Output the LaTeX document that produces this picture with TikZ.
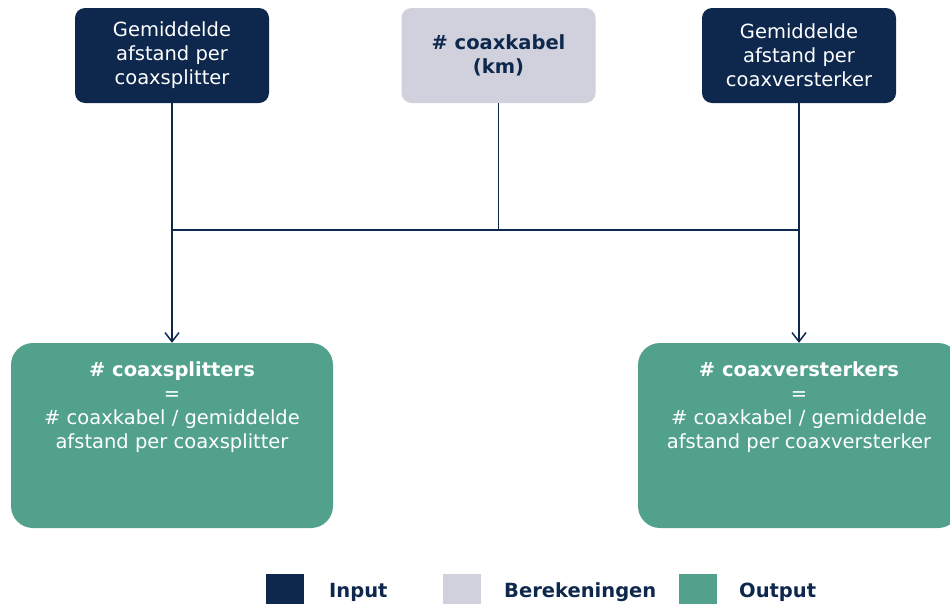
\documentclass[tikz,border=0pt]{standalone}
\usepackage{fontspec}
\setmainfont{DejaVu Sans}
\usetikzlibrary{arrows.meta}
\definecolor{coaxnavy}{RGB}{14,40,77}
\definecolor{coaxgray}{RGB}{208,209,220}
\definecolor{coaxgreen}{RGB}{82,161,140}

\tikzset{
  inbox/.style={fill=coaxnavy, text=white, rounded corners=10pt, minimum width=194pt, minimum height=95pt, align=center, font=\fontsize{19.5}{24}\selectfont},
  calcbox/.style={inbox, fill=coaxgray, text=coaxnavy, font=\fontsize{19.5}{24}\selectfont\bfseries},
  outbox/.style={fill=coaxgreen, rounded corners=22pt, minimum width=322pt, minimum height=185pt},
  outtext/.style={text=white, align=center, anchor=north, font=\fontsize{19.5}{24}\selectfont},
  link/.style={draw=coaxnavy, line width=1.5pt},
  legbox/.style={fill=#1, minimum size=38pt, inner sep=0pt, anchor=north west},
  legtext/.style={text=coaxnavy, anchor=base west, inner xsep=0pt, font=\fontsize{19.5}{22}\selectfont\bfseries}
}

\begin{document}
\begin{tikzpicture}[x=1pt, y=-1pt, >={Straight Barb[length=9pt,width=14pt]}]
    \useasboundingbox (0,0) rectangle (950,603);

    % Inputs and calculation
    \node[inbox] (afsplit) at (172,55.5) {Gemiddelde\\afstand per\\coaxsplitter};
    \node[calcbox] (kabel) at (498.5,55.5) {\# coaxkabel\\(km)};
    \node[inbox] (afverst) at (799,55.5) {Gemiddelde\\afstand per\\coaxversterker};

    % Outputs
    \node[outbox] (nsplit) at (172,435.5) {};
    \node[outtext] (nsplittxt) at ([yshift=-15pt]nsplit.north) {\textbf{\# coaxsplitters}\\=\\\# coaxkabel / gemiddelde\\afstand per coaxsplitter};
    \node[outbox] (nverst) at (799,435.5) {};
    \node[outtext] (nversttxt) at ([yshift=-15pt]nverst.north) {\textbf{\# coaxversterkers}\\=\\\# coaxkabel / gemiddelde\\afstand per coaxversterker};

    % Connectors
    \coordinate (bus) at (0,230);
    \draw[link] (kabel.south) -- (kabel.south |- bus);
    \draw[link] (afsplit.south |- bus) -- (afverst.south |- bus);
    \draw[link, ->] (afsplit.south) -- (nsplit.north);
    \draw[link, ->] (afverst.south) -- (nverst.north);

    % Legend
    \node[legbox=coaxnavy] (leginput) at (266,574) {};
    \node[legtext] (leginputtxt) at (329,597) {Input};
    \node[legbox=coaxgray] (legcalc) at (443,574) {};
    \node[legtext] (legcalctxt) at (504,597) {Berekeningen};
    \node[legbox=coaxgreen] (legoutput) at (679,574) {};
    \node[legtext] (legoutputtxt) at (739,597) {Output};
\end{tikzpicture}
\end{document}
